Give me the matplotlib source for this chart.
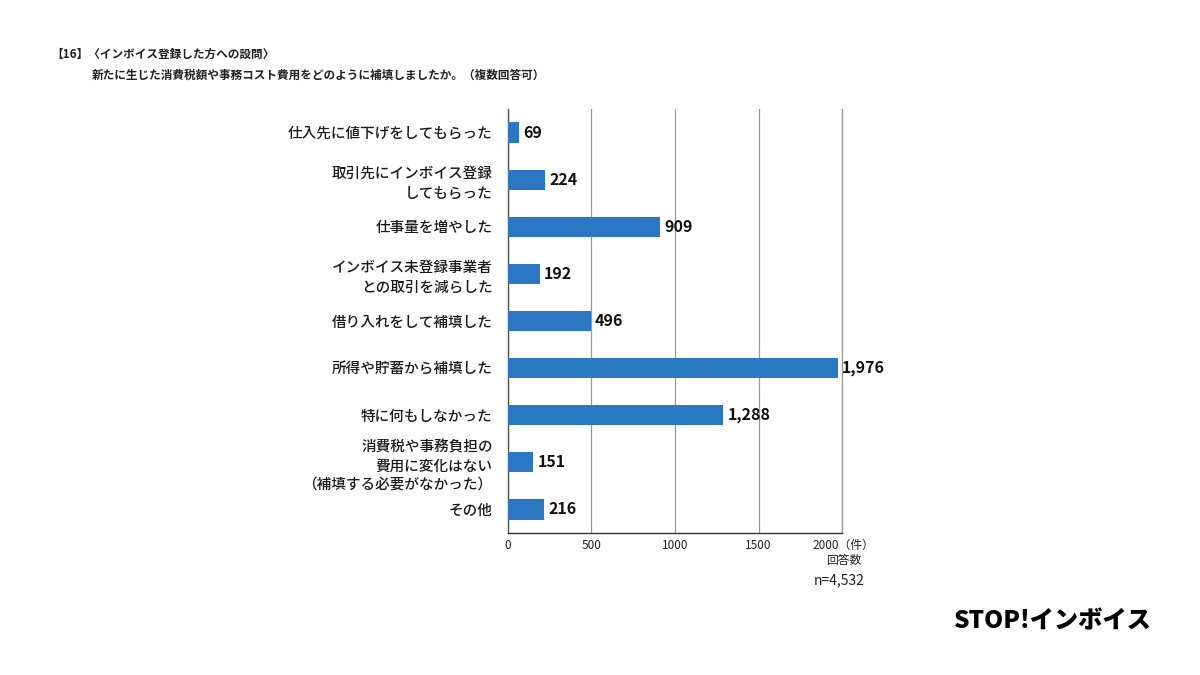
import matplotlib
matplotlib.use("Agg")
import matplotlib.pyplot as plt

plt.rcParams['font.family'] = ['Noto Sans CJK JP', 'DejaVu Sans']

categories = [
    "仕入先に値下げをしてもらった",
    "取引先にインボイス登録\nしてもらった",
    "仕事量を増やした",
    "インボイス未登録事業者\nとの取引を減らした",
    "借り入れをして補填した",
    "所得や貯蓄から補填した",
    "特に何もしなかった",
    "消費税や事務負担の\n費用に変化はない\n（補填する必要がなかった）",
    "その他",
]
counts = [69, 224, 909, 192, 496, 1976, 1288, 151, 216]
xticks = [0, 500, 1000, 1500, 2000]
xtick_labels = ["0", "500", "1000", "1500", ""]

bar_color = "#2a78c3"

fig = plt.figure(figsize=(12, 6.75), dpi=100)
ax = fig.add_axes([0.4233, 0.2104, 0.2784, 0.6281])

ypos = list(range(len(categories)))
ax.barh(ypos, counts, height=0.43, color=bar_color, zorder=3)
ax.set_ylim(len(categories) - 0.5, -0.5)
ax.set_xlim(0, 2000)

ax.set_yticks(ypos)
ax.set_yticklabels(categories, fontsize=10.5, color="#1a1a1a",
                   fontweight='medium', linespacing=1.45)
ax.tick_params(axis='y', length=0, pad=11)
ax.set_xticks(xticks)
ax.set_xticklabels(xtick_labels, fontsize=8.5, color="#222222")
ax.tick_params(axis='x', length=0, pad=4)

ax.grid(axis='x', color="#999999", linewidth=0.9, zorder=0)
ax.spines['top'].set_visible(False)
ax.spines['right'].set_color("#999999")
ax.spines['right'].set_linewidth(0.9)
ax.spines['left'].set_color("#555555")
ax.spines['bottom'].set_color("#333333")
ax.spines['left'].set_linewidth(1.0)
ax.spines['bottom'].set_linewidth(1.0)

for y, v in zip(ypos, counts):
    ax.text(v + 25, y, f"{v:,}", va='center', ha='left', fontsize=11.5,
            fontweight='bold', color="#111111")

# axis unit labels
ax.text(2010, -0.015, "2000（件）", transform=ax.get_xaxis_transform(),
        ha='center', va='top', fontsize=8.5, color="#222222")
ax.text(2010, -0.05, "回答数", transform=ax.get_xaxis_transform(),
        ha='center', va='top', fontsize=8.5, color="#222222")
ax.text(2135, -0.095, "n=4,532", transform=ax.get_xaxis_transform(),
        ha='right', va='top', fontsize=10, color="#222222")

fig.text(0.043, 0.920, "【16】〈インボイス登録した方への設問〉", fontsize=8.4,
         fontweight='bold', color="#222222", va='center')
fig.text(0.0765, 0.889, "新たに生じた消費税額や事務コスト費用をどのように補填しましたか。（複数回答可）",
         fontsize=8.4, fontweight='bold', color="#222222", va='center')

fig.text(0.959, 0.080, "STOP!インボイス", fontsize=17.5, fontweight='heavy',
         color="black", ha='right', va='center')

fig.savefig("out.png", dpi=100, facecolor="white")
